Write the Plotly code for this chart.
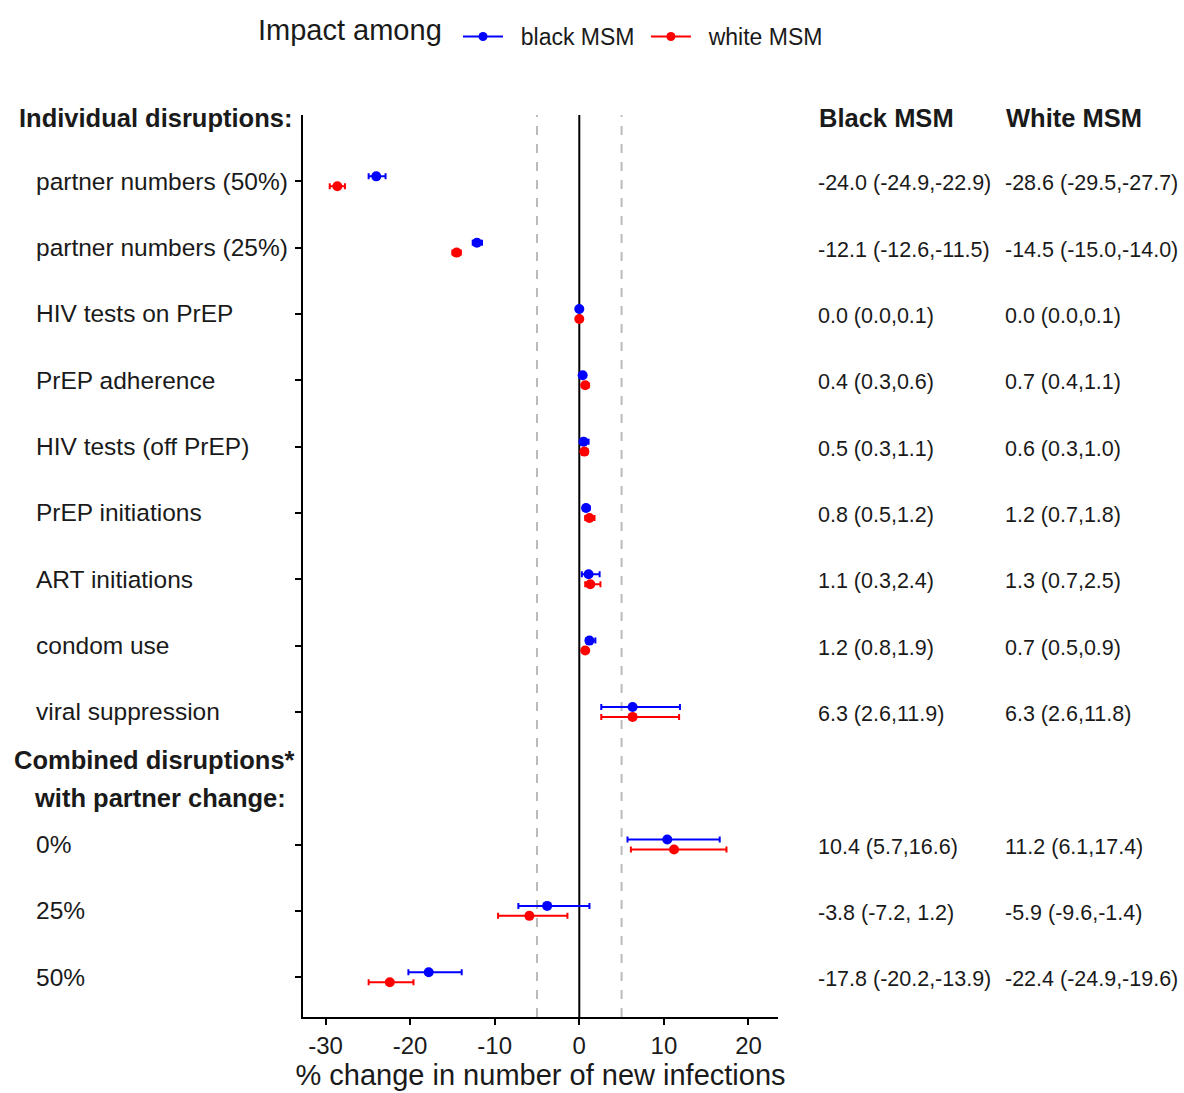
import plotly.graph_objects as go

# ---- data ----
labels = ["partner numbers (50%)", "partner numbers (25%)", "HIV tests on PrEP",
          "PrEP adherence", "HIV tests (off PrEP)", "PrEP initiations",
          "ART initiations", "condom use", "viral suppression",
          "0%", "25%", "50%"]
rows = [1, 2, 3, 4, 5, 6, 7, 8, 9, 11, 12, 13]

black_est = [-24.0, -12.1, 0.0, 0.4, 0.5, 0.8, 1.1, 1.2, 6.3, 10.4, -3.8, -17.8]
black_lo  = [-24.9, -12.6, 0.0, 0.3, 0.3, 0.5, 0.3, 0.8, 2.6, 5.7, -7.2, -20.2]
black_hi  = [-22.9, -11.5, 0.1, 0.6, 1.1, 1.2, 2.4, 1.9, 11.9, 16.6, 1.2, -13.9]

white_est = [-28.6, -14.5, 0.0, 0.7, 0.6, 1.2, 1.3, 0.7, 6.3, 11.2, -5.9, -22.4]
white_lo  = [-29.5, -15.0, 0.0, 0.4, 0.3, 0.7, 0.7, 0.5, 2.6, 6.1, -9.6, -24.9]
white_hi  = [-27.7, -14.0, 0.1, 1.1, 1.0, 1.8, 2.5, 0.9, 11.8, 17.4, -1.4, -19.6]

xticks = [-30, -20, -10, 0, 10, 20]

BLUE = "#0000FF"
RED = "#FF0000"
TXT = "#1a1a1a"
FONT = "Liberation Sans, Arial, sans-serif"
NB = "\u00a0"

# pixel geometry helpers
W, H = 1184, 1093
L, R, T, B = 303, 1184 - 778, 115, 1093 - 1017
pw = W - L - R
ph = H - T - B


def px2paper(xpx):
    return (xpx - L) / pw


def py2paper(ypx):
    return 1 + (T - ypx) / ph


def fmt(e, lo, hi):
    hs = f"{hi:.1f}"
    if lo < 0 <= hi:
        hs = " " + hs
    return f"{e:.1f} ({lo:.1f},{hs})"


fig = go.Figure()

off = 0.075
for est, lo, hi, col, name, sgn in [
    (black_est, black_lo, black_hi, BLUE, "black MSM", -1),
    (white_est, white_lo, white_hi, RED, "white MSM", 1),
]:
    fig.add_trace(go.Scatter(
        x=est, y=[r + sgn * off for r in rows], mode="markers",
        marker=dict(color=col, size=10),
        error_x=dict(type="data", symmetric=False,
                     array=[h - e for h, e in zip(hi, est)],
                     arrayminus=[e - l for e, l in zip(est, lo)],
                     color=col, thickness=2, width=3),
        showlegend=False, cliponaxis=False))
    fig.add_trace(go.Scatter(
        x=[None], y=[None], mode="lines+markers",
        name=NB * 2 + name + NB,
        line=dict(color=col, width=2), marker=dict(color=col, size=9)))

# reference lines
fig.add_shape(type="line", x0=0, x1=0, y0=0, y1=1, xref="x", yref="paper",
              line=dict(color="black", width=2), layer="below")
for v in (-5, 5):
    fig.add_shape(type="line", x0=v, x1=v, y0=0, y1=1, xref="x", yref="paper",
                  line=dict(color="#BBBBBB", width=2, dash="dash"), layer="below")

LAB = 24.5
HDR = 25.5
TAB = 21.5

ann = []
# legend title
ann.append(dict(x=px2paper(256), y=py2paper(30), xref="paper", yref="paper",
                text="Impact among", showarrow=False, xanchor="left",
                yanchor="middle", font=dict(size=29, color=TXT, family=FONT)))
# row labels
for lab, r in zip(labels, rows):
    ann.append(dict(x=px2paper(34), y=r, xref="paper", yref="y", text=lab,
                    showarrow=False, xanchor="left", yanchor="middle",
                    font=dict(size=LAB, color=TXT, family=FONT)))
# headers
ann.append(dict(x=px2paper(155), y=0.05, xref="paper", yref="y",
                text="<b>Individual disruptions:</b>", showarrow=False,
                xanchor="center", yanchor="middle",
                font=dict(size=HDR, color=TXT, family=FONT)))
ann.append(dict(x=px2paper(154), y=9.72, xref="paper", yref="y",
                text="<b>Combined disruptions*</b>", showarrow=False,
                xanchor="center", yanchor="middle",
                font=dict(size=HDR, color=TXT, family=FONT)))
ann.append(dict(x=px2paper(160), y=10.3, xref="paper", yref="y",
                text="<b>with partner change:</b>", showarrow=False,
                xanchor="center", yanchor="middle",
                font=dict(size=HDR, color=TXT, family=FONT)))
# table
ann.append(dict(x=px2paper(817), y=0.05, xref="paper", yref="y",
                text="<b>Black MSM</b>", showarrow=False, xanchor="left",
                yanchor="middle", font=dict(size=HDR, color=TXT, family=FONT)))
ann.append(dict(x=px2paper(1004), y=0.05, xref="paper", yref="y",
                text="<b>White MSM</b>", showarrow=False, xanchor="left",
                yanchor="middle", font=dict(size=HDR, color=TXT, family=FONT)))
for i, r in enumerate(rows):
    ann.append(dict(x=px2paper(816), y=r + 0.03, xref="paper", yref="y",
                    text=fmt(black_est[i], black_lo[i], black_hi[i]),
                    showarrow=False, xanchor="left", yanchor="middle",
                    font=dict(size=TAB, color=TXT, family=FONT)))
    ann.append(dict(x=px2paper(1003), y=r + 0.03, xref="paper", yref="y",
                    text=fmt(white_est[i], white_lo[i], white_hi[i]),
                    showarrow=False, xanchor="left", yanchor="middle",
                    font=dict(size=TAB, color=TXT, family=FONT)))

fig.update_layout(
    width=W, height=H,
    margin=dict(l=L, r=R, t=T, b=B, pad=0, autoexpand=False),
    paper_bgcolor="white", plot_bgcolor="white",
    font=dict(family=FONT, color=TXT),
    annotations=ann,
    legend=dict(orientation="h", x=px2paper(458), xanchor="left",
                y=py2paper(15), yanchor="top",
                font=dict(size=23, color=TXT),
                itemwidth=40,
                bgcolor="rgba(0,0,0,0)"),
    xaxis=dict(range=[-32.66, 23.49], tickvals=xticks,
               ticktext=[str(v) for v in xticks],
               showgrid=False, zeroline=False, showline=True,
               linecolor="black", linewidth=2, ticks="outside", ticklen=6,
               tickwidth=1.5, tickcolor="black",
               tickfont=dict(size=24, color=TXT),
               title=dict(text="% change in number of new infections",
                          font=dict(size=29, color=TXT), standoff=4)),
    yaxis=dict(range=[13.6, 0], tickvals=rows, ticktext=["" for _ in rows],
               showgrid=False, zeroline=False, showline=True,
               linecolor="black", linewidth=2, ticks="outside", ticklen=6,
               tickwidth=1.5, tickcolor="black"),
)

fig.write_html("out.html")
